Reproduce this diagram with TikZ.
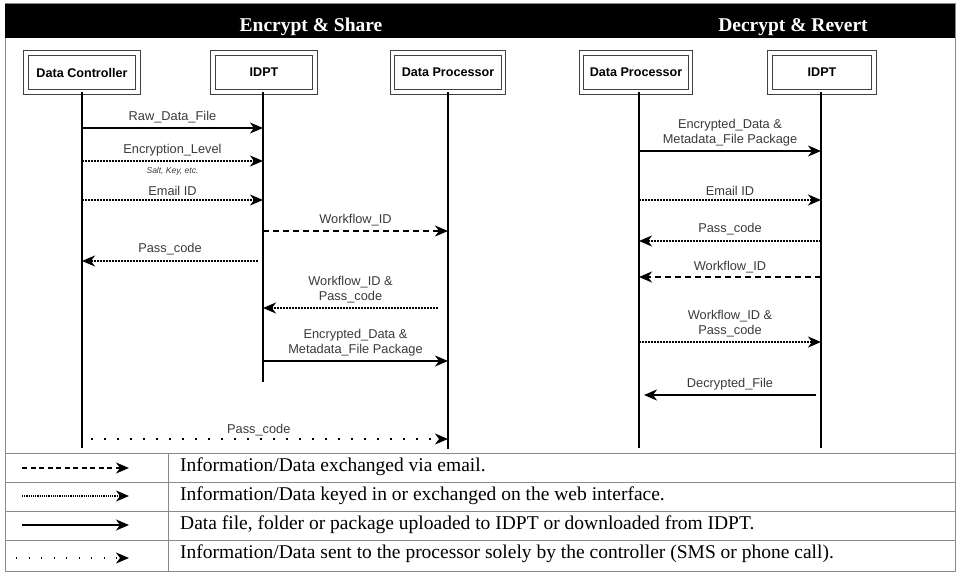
\documentclass[tikz,border=0pt]{standalone}
\usepackage{fontspec}
\setmainfont{Liberation Serif}
\newfontfamily\arialf{Liberation Sans}
\usetikzlibrary{arrows.meta}
\definecolor{lblgray}{HTML}{3A3A3A}
\definecolor{framegray}{HTML}{8A8A8A}
\begin{document}
\begin{tikzpicture}[x=1pt,y=-1pt,
  actor/.style={draw=black!75, line width=1pt, double=white, double distance=3.6pt,
    minimum height=39pt, inner sep=0pt, font=\arialf\bfseries\fontsize{12.6}{14}\selectfont},
  lifeline/.style={line width=2.3pt, black},
  msg/.style={line width=1.7pt, -{Stealth[length=13pt,width=11pt,inset=4pt]}},
  filemsg/.style={msg},
  webmsg/.style={msg, dash pattern=on 1.6pt off 1.4pt},
  emailmsg/.style={msg, dash pattern=on 6pt off 4pt},
  smsmsg/.style={msg, line width=1.6pt, dash pattern=on 1.6pt off 11.4pt},
  lbl/.style={font=\arialf\fontsize{12.8}{15}\selectfont, text=lblgray, align=center, inner sep=1pt},
  small/.style={font=\arialf\itshape\fontsize{8.5}{9}\selectfont, text=lblgray, inner sep=0pt},
  title/.style={font=\bfseries\fontsize{19.5}{22}\selectfont, text=white},
  legtext/.style={font=\fontsize{19.5}{22}\selectfont, anchor=west, inner sep=0pt}
]
\useasboundingbox (0,0) rectangle (959,572);
% frame and header band
\draw[framegray, line width=1pt] (5,4) rectangle (955,571);
\fill[black] (5,4) rectangle (955,38);
\node[title] (t1) at (311,27) {Encrypt \& Share};
\node[title] (t2) at (793,27) {Decrypt \& Revert};

% actors
\node[actor, minimum width=112pt] (dc) at (82,72.5) {Data Controller};
\node[actor, minimum width=102pt] (idl) at (264,72.5) {IDPT};
\node[actor, minimum width=111pt] (dpl) at (448,72.5) {Data Processor};
\node[actor, minimum width=109pt] (dpr) at (636,72.5) {Data Processor};
\node[actor, minimum width=104pt] (idr) at (822,72.5) {IDPT};

% lifelines
\coordinate (dcE) at (82,448);
\coordinate (idlE) at (263,382);
\coordinate (dplE) at (448,449);
\coordinate (dprE) at (639,448);
\coordinate (idrE) at (821,448);
\draw[lifeline] (dcE |- dc.south) -- (dcE);
\draw[lifeline] (idlE |- idl.south) -- (idlE);
\draw[lifeline] (dplE |- dpl.south) -- (dplE);
\draw[lifeline] (dprE |- dpr.south) -- (dprE);
\draw[lifeline] (idrE |- idr.south) -- (idrE);

% Encrypt & Share messages
\draw[filemsg] (dcE |- 0,128) -- node[lbl, above=3pt] {Raw\_Data\_File} (idlE |- 0,128);
\draw[webmsg] (dcE |- 0,161) -- node[lbl, above=3pt] {Encryption\_Level} node[small, below=5pt] {Salt, Key, etc.} (idlE |- 0,161);
\draw[webmsg] (dcE |- 0,200) -- node[lbl, above=3pt] {Email ID} (idlE |- 0,200);
\draw[emailmsg] (idlE |- 0,231) -- node[lbl, above=3pt] {Workflow\_ID} (dplE |- 0,231);
\draw[webmsg] (258,261) -- node[lbl, above=4pt] {Pass\_code} (dcE |- 0,261);
\draw[webmsg] (438,308) -- node[lbl, above=3pt] {Workflow\_ID \&\\Pass\_code} (idlE |- 0,308);
\draw[filemsg] (idlE |- 0,361) -- node[lbl, above=3pt] {Encrypted\_Data \&\\Metadata\_File Package} (dplE |- 0,361);
\draw[smsmsg] (91,439) -- node[lbl, above=1pt, pos=0.47] {Pass\_code} (dplE |- 0,439);

% Decrypt & Revert messages
\draw[filemsg] (dprE |- 0,151) -- node[lbl, above=3pt] {Encrypted\_Data \&\\Metadata\_File Package} (idrE |- 0,151);
\draw[webmsg] (dprE |- 0,200) -- node[lbl, above=3pt] {Email ID} (idrE |- 0,200);
\draw[webmsg] (idrE |- 0,241) -- node[lbl, above=4pt] {Pass\_code} (dprE |- 0,241);
\draw[emailmsg] (idrE |- 0,277) -- node[lbl, above=2pt] {Workflow\_ID} (dprE |- 0,277);
\draw[webmsg] (dprE |- 0,342) -- node[lbl, above=3pt] {Workflow\_ID \&\\Pass\_code} (idrE |- 0,342);
\draw[filemsg] (816,395) -- node[lbl, above=3pt] {Decrypted\_File} (644,395);

% legend table
\draw[framegray, line width=1pt] (5,453) -- (955,453);
\draw[framegray, line width=1pt] (5,482) -- (955,482);
\draw[framegray, line width=1pt] (5,511) -- (955,511);
\draw[framegray, line width=1pt] (5,540) -- (955,540);
\draw[framegray, line width=1pt] (168,453) -- (168,571);

\coordinate (l1a) at (22,468); \coordinate (l1b) at (129,468);
\coordinate (l2a) at (22,496); \coordinate (l2b) at (129,496);
\coordinate (l3a) at (22,525); \coordinate (l3b) at (129,525);
\coordinate (l4a) at (16,558); \coordinate (l4b) at (129,558);
\draw[emailmsg, line width=1.4pt, dash pattern=on 5pt off 3.5pt] (l1a) -- (l1b);
\draw[webmsg, line width=1.1pt, dash pattern=on 1.1pt off 1.1pt] (l2a) -- (l2b);
\draw[filemsg, line width=1.4pt] (l3a) -- (l3b);
\draw[smsmsg, line width=1.2pt, dash pattern=on 1.2pt off 11.3pt] (l4a) -- (l4b);

\node[legtext] (g1) at (180,467) {Information/Data exchanged via email.};
\node[legtext] (g2) at (180,496) {Information/Data keyed in or exchanged on the web interface.};
\node[legtext] (g3) at (180,525) {Data file, folder or package uploaded to IDPT or downloaded from IDPT.};
\node[legtext] (g4) at (180,554) {Information/Data sent to the processor solely by the controller (SMS or phone call).};
\end{tikzpicture}
\end{document}
